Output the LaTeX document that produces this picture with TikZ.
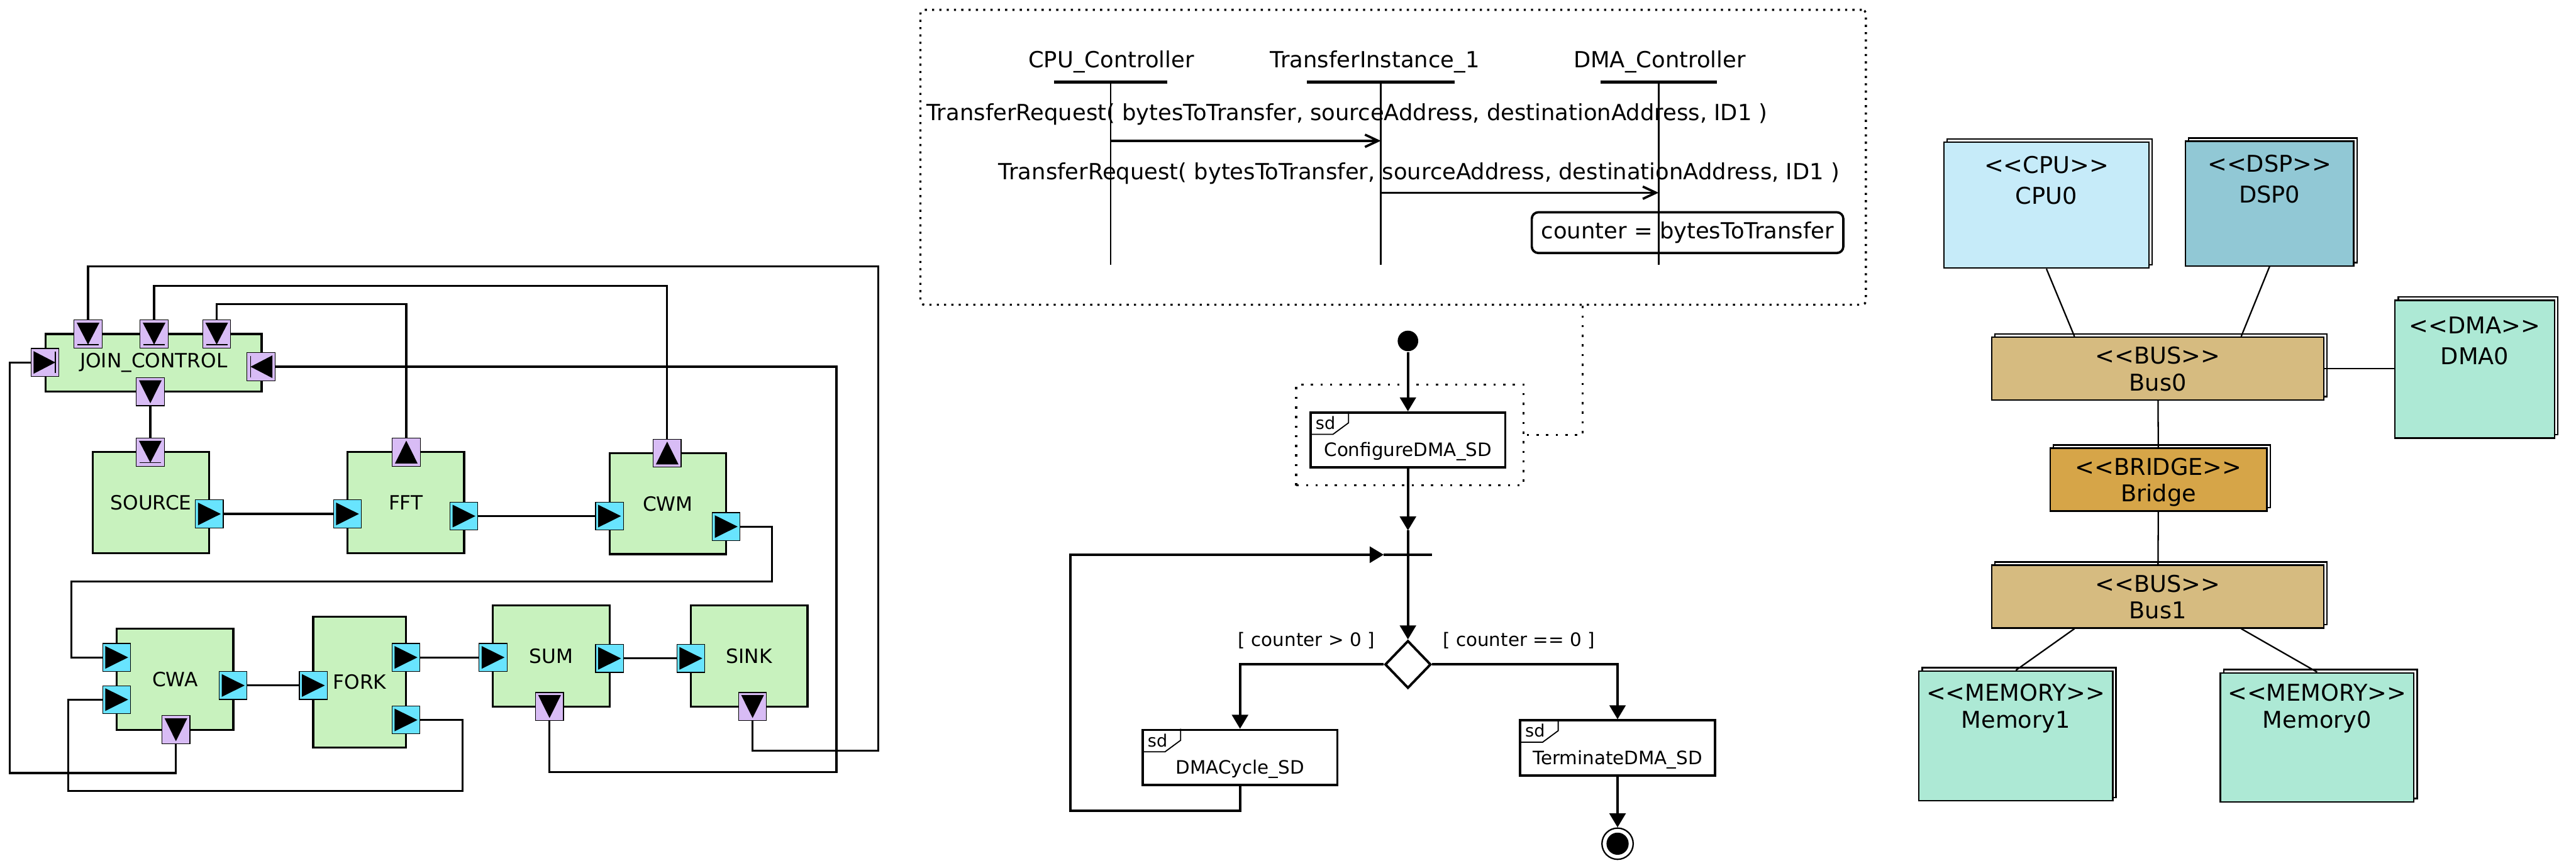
\documentclass[tikz,border=0pt]{standalone}
\usepackage{fontspec}
\setmainfont{DejaVu Sans}[Ligatures=TeXOff]
\usetikzlibrary{arrows.meta,calc,shapes.geometric,shadows}

\definecolor{blockgreen}{HTML}{C8F2BE}
\definecolor{ctrlport}{HTML}{D8BCF5}
\definecolor{dataport}{HTML}{68E4FE}
\definecolor{cpublue}{HTML}{C6EBF9}
\definecolor{dspblue}{HTML}{91C8D5}
\definecolor{bustan}{HTML}{D6BB80}
\definecolor{bridgegold}{HTML}{D6A548}
\definecolor{memgreen}{HTML}{ADE9D5}

\begin{document}
\begin{tikzpicture}[x=0.2mm, y=0.2mm]
    \useasboundingbox (0,0) rectangle (1568,-528);

    % dataflow graph with its ports
    \begin{scope}[line width=0.7pt,
        blk/.style={draw, fill=blockgreen, inner sep=0, minimum width=14.2mm, minimum height=12.3mm, font=\fontsize{6.8}{8}\selectfont},
        port/.style={draw, line width=0.25pt, minimum size=3.4mm, inner sep=0},
        cport/.style={port, fill=ctrlport},
        dport/.style={port, fill=dataport}]
        \node[blk, minimum width=26.3mm, minimum height=7mm] (jc) at (93.5,-220.8) {JOIN\_CONTROL};
        \node[blk] (src) at (91.9,-305.9) {SOURCE};
        \node[blk] (fft) at (247,-305.9) {FFT};
        \node[blk] (cwm) at (406.5,-306.5) {CWM};
        \node[blk] (cwa) at (106.5,-413.5) {CWA};
        \node[blk, minimum width=11.3mm, minimum height=15.9mm] (fork) at (218.9,-415.2) {FORK};
        \node[blk] (sum) at (335.5,-399.2) {SUM};
        \node[blk] (sink) at (456,-399.2) {SINK};

        \node[cport] (jcin1) at (53.6,-203.3) {};
        \node[cport] (jcin2) at (93.8,-203.3) {};
        \node[cport] (jcin3) at (131.9,-203.3) {};
        \node[cport] (jcfb) at (27.3,-220.6) {};
        \node[cport] (jcst) at (158.9,-223.2) {};
        \node[cport] (jcout) at (91.5,-238.4) {};
        \node[cport] (srcctl) at (91.5,-275.2) {};
        \node[dport] (srcout) at (127.4,-312.8) {};
        \node[cport] (fftctl) at (247.3,-275.2) {};
        \node[dport] (fftin) at (211.5,-312.8) {};
        \node[dport] (fftout) at (282.4,-314.1) {};
        \node[cport] (cwmctl) at (406.1,-275.8) {};
        \node[dport] (cwmin) at (371,-314.1) {};
        \node[dport] (cwmout) at (442,-320.5) {};
        \node[dport] (cwain1) at (71,-400.1) {};
        \node[dport] (cwain2) at (71,-425.8) {};
        \node[dport] (cwaout) at (141.9,-417.2) {};
        \node[cport] (cwactl) at (107.1,-444.1) {};
        \node[dport] (forkin) at (190.7,-417.2) {};
        \node[dport] (forkout1) at (247.1,-400.1) {};
        \node[dport] (forkout2) at (247.1,-438.2) {};
        \node[dport] (sumin) at (300.1,-400.1) {};
        \node[dport] (sumout) at (371,-400.7) {};
        \node[cport] (sumctl) at (334.5,-430) {};
        \node[dport] (sinkin) at (420.5,-400.7) {};
        \node[cport] (sinkctl) at (458.1,-430) {};

        % direction marks: plain triangles, and triangles into a bar for control inputs
        \foreach \p/\r in {jcout/-90, fftctl/90, cwmctl/90, cwactl/-90, sumctl/-90, sinkctl/-90,
                srcout/0, fftin/0, fftout/0, cwmin/0, cwmout/0, cwain1/0, cwain2/0, cwaout/0,
                forkin/0, forkout1/0, forkout2/0, sumin/0, sumout/0, sinkin/0}
            \fill[shift={(\p.center)}, rotate=\r] (-6.9,6.9) -- (7,0) -- (-6.9,-6.9) -- cycle;
        \foreach \p/\r in {jcin1/-90, jcin2/-90, jcin3/-90, jcfb/0, jcst/180, srcctl/-90} {
            \fill[shift={(\p.center)}, rotate=\r] (-6.9,6.9) -- (6.4,0) -- (-6.9,-6.9) -- cycle;
            \draw[shift={(\p.center)}, rotate=\r, line width=0.35pt] (6.4,6.5) -- (6.4,-6.5);
        }

        \draw (jcout) -- (srcctl);
        \draw (srcout) -- (fftin);
        \draw (fftout) -- (cwmin);
        \draw (cwaout) -- (forkin);
        \draw (forkout1) -- (sumin);
        \draw (sumout) -- (sinkin);
        \draw (cwmout) -| (470,-353.9) -| (43.3,-400.1) -- (cwain1);
        \draw (forkout2) -| (281.7,-481.4) -| (41.5,-425.8) -- (cwain2);
        \draw (sinkctl) |- (534.7,-456.8) |- (53.6,-162) -- (jcin1);
        \draw (cwmctl) |- (93.8,-174) -- (jcin2);
        \draw (fftctl) |- (131.9,-185.1) -- (jcin3);
        \draw (cwactl) |- (5.9,-470.5) |- (jcfb);
        \draw (sumctl) |- (509.1,-469.8) |- (jcst);
    \end{scope}

    % sequence diagram
    \begin{scope}[font=\fontsize{7.7}{9}\selectfont,
        life/.style={line width=0.5pt},
        headbar/.style={line width=1pt},
        msg/.style={line width=0.8pt, -{Straight Barb[length=1.6mm, width=1.5mm]}}]
        \node[draw, line width=0.73pt, dash pattern=on 0.73pt off 1.8pt, rounded corners=0.5mm, minimum width=115.1mm, minimum height=35.9mm] (sdframe) at (848,-95.75) {};

        \node (cpuctl) at (676.4,-37.5) {CPU\_Controller};
        \node (tinst) at (836.9,-37.5) {TransferInstance\_1};
        \node (dmactl) at (1010.2,-37.5) {DMA\_Controller};
        \coordinate (cpuL) at (676,-50);
        \coordinate (tiL) at (840.5,-50);
        \coordinate (dmaL) at (1009.6,-50);
        \draw[headbar] ($(cpuL)+(-34.5,0)$) -- ($(cpuL)+(34.5,0)$);
        \draw[headbar] ($(tiL)+(-45,0)$) -- ($(tiL)+(45,0)$);
        \draw[headbar] ($(dmaL)+(-35.4,0)$) -- ($(dmaL)+(35.4,0)$);
        \draw[life] (cpuL) -- ++(0,-111);
        \draw[life] (tiL) -- ++(0,-111);
        \draw[life] (dmaL) -- ++(0,-111);

        \node (req1) at (820,-69.5) {TransferRequest( bytesToTransfer, sourceAddress, destinationAddress, ID1 )};
        \draw[msg] (cpuL |- 0,-85.7) -- (tiL |- 0,-85.7);
        \node (req2) at (863.8,-105.4) {TransferRequest( bytesToTransfer, sourceAddress, destinationAddress, ID1 )};
        \draw[msg] (tiL |- 0,-117.3) -- (dmaL |- 0,-117.3);
        \node[draw, line width=0.8pt, rounded corners=0.8mm, minimum width=37.4mm, minimum height=3.8mm] (act) at (1027.2,-141.6) {counter = bytesToTransfer};
    \end{scope}

    % activity diagram
    \begin{scope}[line width=0.85pt, font=\fontsize{6.4}{7.7}\selectfont,
        flow/.style={-{Triangle[length=1.7mm, width=1.95mm]}},
        sdbox/.style={draw, line width=0.8pt, inner sep=0, minimum width=23.7mm, minimum height=6.7mm, text height=12.9pt, text depth=1.5pt},
        refline/.style={line width=0.78pt, dash pattern=on 0.78pt off 2.55pt}]
        \node[circle, fill, inner sep=0, minimum size=2.5mm] (start) at (857,-207.5) {};
        \node[sdbox] (cfg) at (857,-267.8) {ConfigureDMA\_SD};
        \node[draw, refline, inner sep=0, minimum width=27.66mm, minimum height=12.26mm] (cfgref) at (858.2,-264.75) {};
        \node[inner sep=0, minimum size=5.6mm] (merge) at (857,-337.6) {};
        \node[draw, diamond, inner sep=0, minimum width=5.6mm, minimum height=5.8mm] (dec) at (857,-404.4) {};
        \node[sdbox] (cyc) at (754.8,-461) {DMACycle\_SD};
        \node[sdbox] (term) at (984.6,-455.2) {TerminateDMA\_SD};
        \node[circle, draw, line width=0.5pt, inner sep=0, minimum size=3.8mm,
            path picture={\fill (path picture bounding box.center) circle (1.35mm);}] (stop) at (984.6,-513.5) {};
        \node (gpos) at (795.2,-390) {[ counter > 0 ]};
        \node (gzero) at (924.5,-390) {[ counter == 0 ]};

        % the sd tab in the corner of each interaction
        \foreach \b in {cfg, cyc, term} {
            \draw[line width=0.4pt] ([shift={(0.8,-14)}]\b.north west) -- ++(13.5,0) -- ++(9.5,7) -- ++(0,7);
            \node[anchor=west, inner sep=0, font=\fontsize{5.9}{7}\selectfont] (\b tag) at ([shift={(3,-7)}]\b.north west) {sd};
        }

        \draw[flow] (start) -- (cfg);
        \draw[flow] (cfg) -- (merge.north);
        \draw (merge.west) -- (merge.east) (merge.north) -- (merge.south);
        \draw[flow] (merge.south) -- (dec);
        \draw[flow] (dec.west) -| (cyc.north);
        \draw[flow] (dec.east) -| (term.north);
        \draw[flow] (term) -- (stop);
        \draw[flow] (cyc.south) |- (651.6,-493.6) |- (merge.west);
        \draw[refline] ($(sdframe.south west)!0.7!(sdframe.south east)$) |- (cfgref.east);
    \end{scope}

    % deployment view
    \begin{scope}[line width=0.5pt,
        dnode/.style={draw, inner sep=0, general shadow={fill=white, draw=black, line width=0.5pt, shadow xshift=0.4mm, shadow yshift=0.4mm}},
        dlabel/.style={anchor=north, align=center, font=\fontsize{8}{9.3}\selectfont},
        dtall/.style={anchor=north, align=center, yshift=-0.5mm, font=\fontsize{8}{10.7}\selectfont}]
        \node[dnode, fill=cpublue, minimum width=24.98mm, minimum height=15.32mm, label={[dtall]north:{<<CPU>>\\CPU0}}] (cpu0) at (1245.65,-124.9) {};
        \node[dnode, fill=dspblue, minimum width=20.5mm, minimum height=15.16mm, label={[dtall]north:{<<DSP>>\\DSP0}}] (dsp0) at (1381.45,-123.9) {};
        \node[dnode, fill=bustan, minimum width=40.42mm, minimum height=7.64mm, label={[dlabel]north:{<<BUS>>\\Bus0}}] (bus0) at (1313.45,-224.3) {};
        \node[dnode, fill=memgreen, minimum width=19.42mm, minimum height=16.76mm, label={[dtall, yshift=-0.3mm]north:{<<DMA>>\\DMA0}}] (dma0) at (1506.35,-224.7) {};
        \node[dnode, fill=bridgegold, minimum width=26.38mm, minimum height=7.64mm, label={[dlabel]north:{<<BRIDGE>>\\Bridge}}] (bridge) at (1313.85,-291.9) {};
        \node[dnode, fill=bustan, minimum width=40.42mm, minimum height=7.64mm, label={[dlabel]north:{<<BUS>>\\Bus1}}] (bus1) at (1313.45,-363.1) {};
        \node[dnode, fill=memgreen, minimum width=23.6mm, minimum height=15.8mm, label={[dlabel, yshift=-0.4mm]north:{<<MEMORY>>\\Memory1}}] (mem1) at (1227,-447.9) {};
        \node[dnode, fill=memgreen, minimum width=23.56mm, minimum height=15.7mm, label={[dlabel, yshift=-0.2mm]north:{<<MEMORY>>\\Memory0}}] (mem0) at (1410.4,-448.75) {};

        \draw (cpu0.south) -- ($(bus0.north west)!0.25!(bus0.north east)$);
        \draw (dsp0.south) -- ($(bus0.north west)!0.75!(bus0.north east)$);
        \draw (bus0.east) -- (bus0.east -| dma0.west);
        \draw (bus0) -- (bridge);
        \draw (bridge) -- (bus1);
        \draw ($(bus1.south west)!0.25!(bus1.south east)$) -- (mem1.north);
        \draw ($(bus1.south west)!0.75!(bus1.south east)$) -- (mem0.north);
    \end{scope}
\end{tikzpicture}
\end{document}
